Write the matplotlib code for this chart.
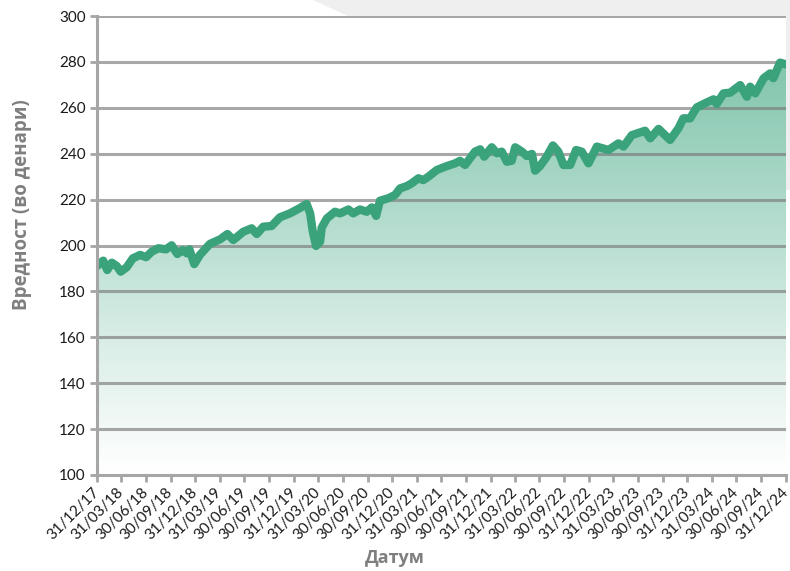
import numpy as np
import pandas as pd
import matplotlib
matplotlib.use("Agg")
import matplotlib.pyplot as plt
import matplotlib.dates as mdates
from matplotlib.patches import Polygon
from matplotlib.colors import LinearSegmentedColormap

dates = [
    "2018-01-01", "2018-01-23", "2018-02-07", "2018-02-24", "2018-03-14", "2018-03-29",
    "2018-04-20", "2018-05-13", "2018-06-09", "2018-07-01", "2018-07-22", "2018-08-16",
    "2018-09-13", "2018-10-04", "2018-10-25", "2018-11-14", "2018-11-29", "2018-12-09",
    "2018-12-27", "2019-01-17", "2019-02-23", "2019-04-02", "2019-04-29", "2019-05-21",
    "2019-06-27", "2019-07-28", "2019-08-16", "2019-09-09", "2019-10-10", "2019-11-10",
    "2019-12-17", "2020-01-21", "2020-02-17", "2020-03-01", "2020-03-11", "2020-03-23",
    "2020-04-07", "2020-04-13", "2020-05-02", "2020-06-01", "2020-06-20", "2020-07-21",
    "2020-08-08", "2020-09-02", "2020-09-27", "2020-10-16", "2020-11-01", "2020-11-15",
    "2020-12-16", "2021-01-10", "2021-01-29", "2021-02-23", "2021-03-13", "2021-04-07",
    "2021-04-25", "2021-05-14", "2021-06-14", "2021-07-21", "2021-08-21", "2021-09-08",
    "2021-09-27", "2021-11-03", "2021-11-22", "2021-12-07", "2022-01-04", "2022-01-23",
    "2022-02-10", "2022-03-01", "2022-03-19", "2022-04-01", "2022-04-26", "2022-05-14",
    "2022-06-02", "2022-06-14", "2022-07-02", "2022-07-27", "2022-08-19", "2022-09-08",
    "2022-09-27", "2022-10-22", "2022-11-13", "2022-12-04", "2022-12-29", "2023-01-29",
    "2023-03-13", "2023-04-19", "2023-05-08", "2023-06-08", "2023-07-27", "2023-08-15",
    "2023-09-15", "2023-10-09", "2023-10-28", "2023-11-28", "2023-12-16", "2024-01-10",
    "2024-02-04", "2024-03-06", "2024-04-06", "2024-04-18", "2024-05-13", "2024-06-07",
    "2024-07-14", "2024-08-08", "2024-08-20", "2024-09-08", "2024-10-09", "2024-11-02",
    "2024-11-14", "2024-12-09", "2024-12-31",
]
values = [
    191.1, 193.4, 189.3, 192.5, 191.1, 188.6,
    190.5, 194.4, 195.9, 194.9, 197.3, 198.8,
    198.3, 200.1, 196.3, 198.0, 196.6, 198.3,
    191.9, 195.9, 200.7, 202.7, 205.0, 202.4,
    206.0, 207.5, 205.0, 208.2, 208.5, 212.3,
    214.0, 216.2, 218.1, 214.0, 206.0, 199.8,
    201.7, 207.8, 211.8, 214.7, 214.0, 215.7,
    214.0, 215.7, 214.7, 216.6, 212.9, 219.5,
    220.6, 222.0, 224.9, 225.9, 227.1, 229.3,
    228.5, 230.0, 232.9, 234.6, 235.8, 236.9,
    235.1, 240.9, 241.9, 238.7, 242.8, 240.2,
    240.9, 236.5, 236.9, 242.8, 240.9, 239.0,
    239.9, 232.6, 234.6, 238.7, 243.6, 240.9,
    235.1, 235.1, 241.6, 240.9, 235.8, 243.1,
    241.6, 244.5, 243.1, 248.1, 250.0, 246.7,
    250.8, 248.1, 246.0, 251.1, 255.4, 255.4,
    260.2, 262.0, 263.7, 261.7, 266.3, 266.6,
    269.9, 264.8, 269.2, 266.3, 272.9, 275.0,
    272.9, 279.7, 278.9,
]
tick_dates = pd.date_range("2017-12-31", "2024-12-31", freq="QE")
y_ticks = list(range(100, 301, 20))
x_label = "Датум"
y_label = "Вредност (во денари)"

W, H = 790, 571
fig = plt.figure(figsize=(W / 100, H / 100), dpi=100)
fig.patch.set_facecolor("white")

def fx(px):
    return px / W
def fy(py):
    return 1 - py / H

# decorative grey background shape (top right)
poly = Polygon([(fx(313), fy(0)), (fx(790), fy(0)), (fx(790), fy(190)),
                (fx(600), fy(190)), (fx(348), fy(16))],
               closed=True, transform=fig.transFigure, facecolor="#efefef",
               edgecolor="none", zorder=-5)
fig.patches.append(poly)

ax = fig.add_axes([fx(97), fy(475), fx(786) - fx(97), fy(16) - fy(475)])
ax.set_facecolor("white")

x = pd.to_datetime(dates)
xn = mdates.date2num(x)
v = np.array(values)

# gradient fill under the line
cmap = LinearSegmentedColormap.from_list("g", [(1, 1, 1), (0.48, 0.76, 0.66)])
grad = np.linspace(0, 1, 256).reshape(-1, 1) ** 1.05
x0 = mdates.date2num(pd.Timestamp("2017-12-31"))
x1 = mdates.date2num(pd.Timestamp("2024-12-31"))
im = ax.imshow(grad, extent=[x0, x1, 100, 290], origin="lower", aspect="auto",
               cmap=cmap, zorder=1, interpolation="bicubic")
verts = [(xn[0], 100)] + list(zip(xn, v)) + [(xn[-1], 100)]
clip = Polygon(verts, closed=True, transform=ax.transData, facecolor="none", edgecolor="none")
ax.add_patch(clip)
im.set_clip_path(clip)

# gridlines
for yt in y_ticks[1:]:
    ax.axhline(yt, color="#7a7a7a", alpha=0.65, lw=2.2, zorder=2)

ax.plot(x, v, color="#3ba37c", lw=6, solid_joinstyle="round", solid_capstyle="round", zorder=3)

ax.set_xlim(x0, x1)
ax.set_ylim(100, 300)
ax.set_yticks(y_ticks)
ax.set_xticks(tick_dates)
ax.xaxis.set_major_formatter(mdates.DateFormatter("%d/%m/%y"))

for s in ["top", "right"]:
    ax.spines[s].set_visible(False)
for s in ["left", "bottom"]:
    ax.spines[s].set_color("#a6a6a6")
    ax.spines[s].set_linewidth(2.2)
    ax.spines[s].set_zorder(4)

ax.tick_params(axis="both", direction="out", length=5, width=2, color="#a6a6a6",
               labelsize=11, labelcolor="#1a1a1a", pad=3)
ax.tick_params(axis="x", pad=6)
for lbl in ax.get_yticklabels():
    lbl.set_fontfamily("Lato")
for lbl in ax.get_xticklabels():
    lbl.set_fontfamily("Lato")
    lbl.set_rotation(45)
    lbl.set_ha("right")
    lbl.set_va("center")
    lbl.set_rotation_mode("anchor")

fig.text(0.5, fy(558), x_label, ha="center", va="center", fontsize=13,
         fontweight="bold", color="#7f7f7f", family="Open Sans")
fig.text(fx(22), fy(205), y_label, ha="center", va="center", rotation=90,
         fontsize=13.5, fontweight="bold", color="#7f7f7f", family="Open Sans")

fig.savefig("out.png", dpi=100)
